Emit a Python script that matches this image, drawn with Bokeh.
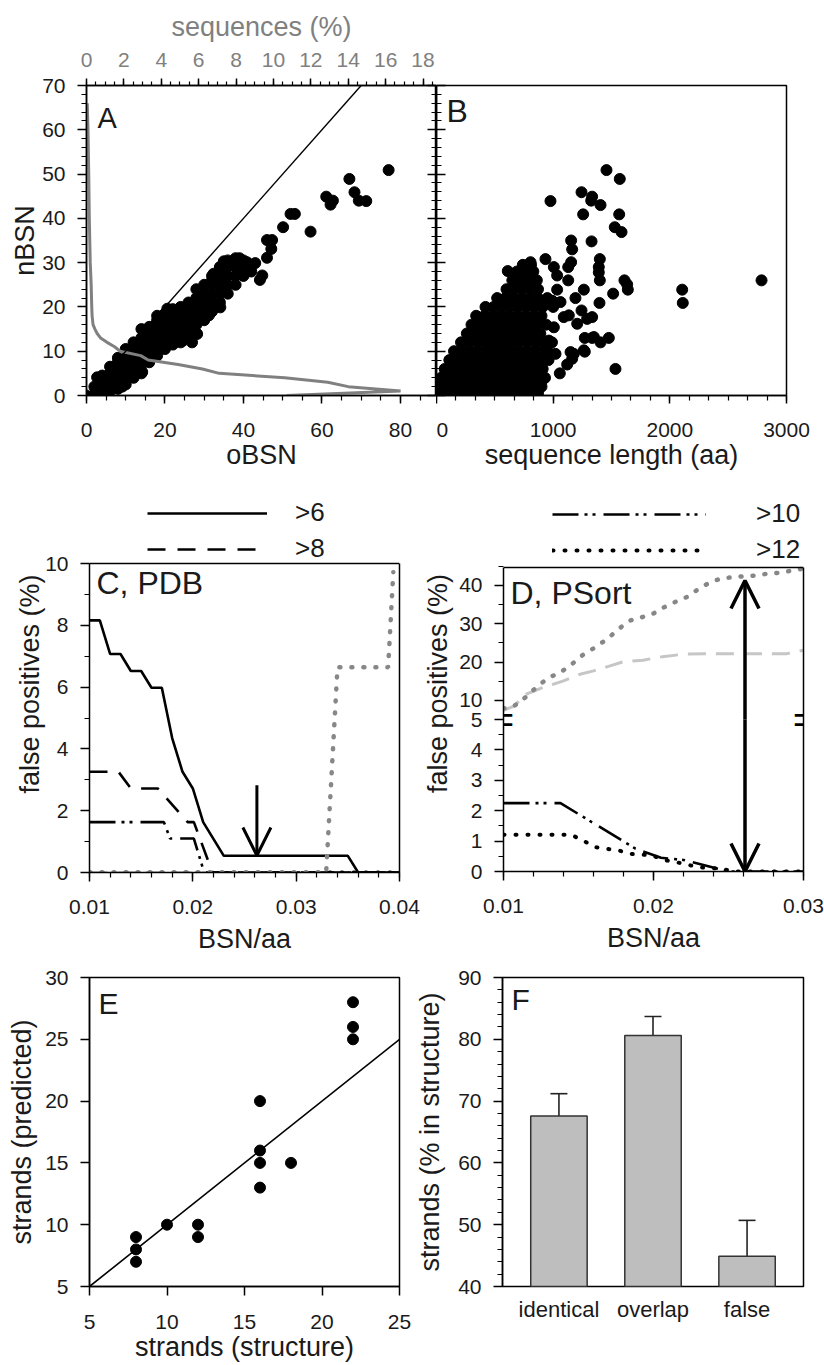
from bokeh.plotting import figure
from bokeh.models import (Range1d, LinearAxis, SingleIntervalTicker, FixedTicker, Slope, Arrow, Span,
                          OpenHead, Label, Legend, LegendItem, Whisker, TeeHead, ColumnDataSource,
                          CustomJSTickFormatter)
from bokeh.layouts import row, column
from bokeh.embed import file_html
from bokeh.resources import INLINE

FONT = "Liberation Sans"
TXT = "#1a1a1a"
GRAY = "#878787"
LIGHT = "#c6c6c6"
BAR = "#bebebe"

# ---------------- Panel A: nBSN vs oBSN ----------------
A_band_obsn = [0, 2, 4, 6, 8, 10, 12, 14, 16, 18, 20, 22, 24, 26, 28, 30, 32, 34, 36, 38, 40, 42]
A_band_nbsn = [[0], [0, 2], [0.5, 2.5, 4.5], [1, 3, 5, 6.5], [1.5, 3.5, 5.5, 7.5, 8.5],
               [2.5, 4.5, 6.5, 8.5, 10.5], [4, 6, 8, 10, 12], [5, 7, 9, 11, 13, 15],
               [7.5, 9.5, 11.5, 13.5, 15.5], [9, 11, 13, 15, 17, 18], [10.5, 12.5, 14.5, 16.5, 18.5],
               [11.5, 13.5, 15.5, 17.5, 19.5], [12, 14, 16, 18, 20], [13, 15, 17, 19, 21],
               [14, 16, 18, 20, 22, 24], [17, 19, 21, 23, 25], [19, 21, 23, 25, 27],
               [21, 23, 25, 27, 29], [23, 25, 27, 29, 30.5], [25, 27, 29, 31], [27, 29, 30.5], [28, 29.5]]
A_out_obsn = [77.0, 67.0, 68.3, 69.4, 71.3, 61.1, 62.2, 62.8, 57.1, 50.1, 52.0, 53.1, 46.0, 47.3, 47.1,
              46.0, 44.8, 44.2, 39.0, 40.9, 43.0, 41.8, 40.1, 35.0, 34.1, 32.4, 32.0, 34.1, 35.4, 34.1,
              29.0, 28.6, 31.2, 31.0, 26.5, 25.6, 28.2, 26.9, 24.6, 22.3, 20.6, 24.4, 14.2, 9.1, 2.7]
A_out_nbsn = [50.9, 48.9, 45.9, 44.0, 43.9, 44.9, 43.1, 44.0, 37.0, 38.0, 41.0, 41.0, 35.1, 35.1, 33.1,
              31.1, 27.1, 26.1, 31.0, 30.1, 29.9, 28.6, 28.2, 30.3, 29.0, 27.5, 26.0, 25.2, 23.7, 19.9,
              23.7, 21.8, 18.1, 21.1, 20.7, 18.4, 13.9, 12.0, 12.4, 19.2, 19.6, 16.9, 5.3, 2.0, 4.1]
A_curve_nbsn = [0, 1, 2, 3, 4, 5, 6, 7, 8, 9, 10, 11, 12, 13, 14, 15, 16, 18, 20, 25, 30, 40, 50, 60, 66]
A_curve_seq = [10.7, 16.8, 14.0, 12.9, 10.6, 7.1, 6.2, 4.9, 3.3, 2.9, 1.8, 1.5, 1.1, 0.75, 0.57, 0.45,
               0.35, 0.3, 0.28, 0.25, 0.2, 0.15, 0.12, 0.08, 0.04]

# ---------------- Panel B: nBSN vs sequence length ----------------
B_band_nbsn = [0.5, 2, 4, 6, 8, 10, 12, 14, 16, 18, 20, 22, 24, 26, 28, 29.5]
B_band_len = [[30, 100, 170, 240, 310, 380, 450, 520, 590, 660, 730, 800, 870],
              [20, 80, 150, 220, 290, 360, 430, 500, 570, 640, 710, 780, 850, 900],
              [40, 110, 180, 250, 320, 390, 460, 530, 600, 670, 740, 810, 880, 930],
              [70, 140, 210, 280, 350, 420, 490, 560, 630, 700, 770, 840, 910],
              [110, 180, 250, 320, 390, 460, 530, 600, 670, 740, 810, 880, 960],
              [150, 220, 290, 360, 430, 500, 570, 640, 710, 780, 850, 920],
              [210, 280, 350, 420, 490, 560, 630, 700, 770, 840, 910, 990],
              [260, 330, 400, 470, 540, 610, 680, 750, 820, 890],
              [300, 370, 440, 510, 580, 650, 720, 790, 860, 940],
              [340, 410, 480, 550, 620, 690, 760, 830, 900],
              [420, 490, 560, 630, 700, 770, 840, 910, 1000],
              [520, 590, 660, 730, 800, 870, 950],
              [600, 670, 740, 810, 870],
              [650, 720, 790, 860],
              [690, 760, 830],
              [740, 810]]
B_out_len = [1457, 1571, 1243, 1334, 1326, 1406, 977, 1257, 1566, 1528, 1586, 1329, 1154, 1163, 1400,
             1391, 1391, 1400, 1154, 1129, 1129, 1611, 1640, 1634, 1514, 1397, 1263, 1191, 1034, 2106,
             2111, 2786, 1534, 1057, 1271, 1334, 1406, 1477, 1271, 1334, 1243, 1134, 1177, 1120, 897,
             934, 1006, 1034, 611, 806, 991, 1063, 1091, 1006, 949, 1020, 1149, 1163, 963, 1206,
             1291, 1349, 1263]
B_out_nbsn = [50.9, 48.9, 45.9, 44.9, 44.0, 43.0, 43.9, 40.9, 40.9, 38.0, 36.9, 34.8, 35.0, 33.0, 30.8,
              29.0, 27.8, 26.0, 30.1, 29.0, 26.0, 26.0, 23.9, 25.1, 23.0, 20.9, 23.9, 22.0, 23.9, 23.9,
              20.9, 26.0, 6.0, 5.0, 9.9, 13.0, 12.0, 13.0, 13.0, 17.7, 19.2, 18.1, 9.4, 7.0, 3.0,
              30.8, 29.0, 27.1, 28.1, 30.1, 21.4, 21.1, 17.7, 15.4, 10.2, 9.4, 9.8, 8.3, 12.4, 16.2,
              17.3, 13.2, 10.2]

# ---------------- Panel C: PDB ----------------
C_ymax = 10
C_x6 = [0.010, 0.011, 0.012, 0.013, 0.014, 0.015, 0.016, 0.017, 0.018, 0.019, 0.020, 0.021, 0.023, 0.035, 0.036, 0.040]
C_y6 = [8.16, 8.16, 7.07, 7.07, 6.52, 6.52, 5.98, 5.98, 4.35, 3.26, 2.72, 1.63, 0.54, 0.54, 0.0, 0.0]
C_x8 = [0.010, 0.0128, 0.0140, 0.0166, 0.0195, 0.0201, 0.0219, 0.040]
C_y8 = [3.26, 3.26, 2.72, 2.72, 1.63, 1.63, 0.0, 0.0]
C_x10 = [0.010, 0.0172, 0.0178, 0.0201, 0.0211, 0.040]
C_y10 = [1.63, 1.63, 1.10, 1.10, 0.0, 0.0]
C_x12 = [0.010, 0.040]
C_y12 = [0.0, 0.0]
C_xl = [0.010, 0.040]
C_yl = [0.0, 0.0]
C_xg = [0.010, 0.0329, 0.0340, 0.0389, 0.0394]
C_yg = [0.0, 0.0, 6.64, 6.64, 9.72]
C_arrow = (0.0262, 2.82, 0.55)

# ---------------- Panel D: PSort ----------------
D_break, D_top = 5.0, 44.7
D_xg = [0.0100, 0.0107, 0.0115, 0.0123, 0.0130, 0.0138, 0.0146, 0.0153, 0.0161, 0.0169, 0.0177, 0.0184,
        0.0192, 0.0200, 0.0207, 0.0215, 0.0223, 0.0230, 0.0238, 0.0245, 0.0253, 0.0261, 0.0268, 0.0276,
        0.0284, 0.0291, 0.0300]
D_yg = [7.9, 8.5, 10.9, 13.8, 15.9, 17.3, 19.6, 21.9, 23.8, 26.0, 28.7, 30.8, 31.7, 32.7, 34.3, 35.8,
        37.1, 39.1, 40.9, 41.8, 42.2, 42.4, 42.6, 43.1, 43.3, 43.8, 44.4]
D_xl = [0.0100, 0.0107, 0.0115, 0.0126, 0.0140, 0.0151, 0.0160, 0.0171, 0.0180, 0.0193, 0.0206, 0.0221,
        0.0254, 0.0289, 0.0300]
D_yl = [7.4, 8.5, 11.6, 13.3, 15.1, 16.8, 17.7, 19.0, 20.1, 20.5, 21.4, 22.1, 22.2, 22.2, 23.1]
D_x10 = [0.0100, 0.0138, 0.0188, 0.0205, 0.0220, 0.0250, 0.0300]
D_y10 = [2.25, 2.25, 0.75, 0.45, 0.38, 0.0, 0.0]
D_x12 = [0.0100, 0.0145, 0.0153, 0.0161, 0.0177, 0.0185, 0.0199, 0.0207, 0.0215, 0.0230, 0.0245, 0.0255, 0.0300]
D_y12 = [1.21, 1.21, 1.02, 0.80, 0.69, 0.58, 0.53, 0.38, 0.31, 0.14, 0.09, 0.0, 0.0]
D_arrow = (0.0261, 41.3, 0.0)
D_low_ticks = [0, 1, 2, 3, 4, 5]
D_up_ticks = [10, 20, 30, 40]

# ---------------- Panel E ----------------
E_struct = [8, 8, 8, 10, 12, 12, 16, 16, 16, 16, 18, 22, 22, 22]
E_pred = [9, 8, 7, 10, 10, 9, 20, 16, 15, 13, 15, 28, 26, 25]

# ---------------- Panel F ----------------
F_cats = ["identical", "overlap", "false"]
F_vals = [67.6, 80.6, 44.9]
F_err = [3.6, 3.1, 5.8]

TICK_PX = "21px"
LABEL_PX = "27px"


# ---------------- helpers ----------------
def style_axis(ax, tick_out=9, minor_out=5, tick_in=0, minor_in=0, standoff=12, label_standoff=4):
    ax.axis_line_color = "black"
    ax.axis_line_width = 1.5
    ax.major_tick_line_color = "black"
    ax.major_tick_line_width = 1.5
    ax.minor_tick_line_color = "black"
    ax.minor_tick_line_width = 1.2
    ax.major_tick_out = tick_out
    ax.major_tick_in = tick_in
    ax.minor_tick_out = minor_out
    ax.minor_tick_in = minor_in
    ax.major_label_text_font = FONT
    ax.major_label_text_font_size = TICK_PX
    ax.major_label_text_color = TXT
    ax.major_label_standoff = standoff
    ax.axis_label_text_font = FONT
    ax.axis_label_text_font_size = LABEL_PX
    ax.axis_label_text_font_style = "normal"
    ax.axis_label_text_color = TXT
    ax.axis_label_standoff = label_standoff


def hidden_labels(ax):
    ax.formatter = CustomJSTickFormatter(code="return ''")
    ax.major_label_standoff = 0
    ax.axis_label_standoff = 0


def make_fig(fw, fh, left, right, top, bottom, xr, yr):
    p = figure(frame_width=fw, frame_height=fh, x_range=xr, y_range=yr,
               output_backend="svg", toolbar_location=None,
               min_border_left=left, min_border_right=right,
               min_border_top=top, min_border_bottom=bottom)
    p.grid.visible = False
    p.outline_line_color = "black"
    p.outline_line_width = 1.5
    return p


def open_top_box(p, ytop):
    """Frame taller than the plotting box: draw the box from axes + a span."""
    p.outline_line_color = None
    p.yaxis[0].bounds = (0, ytop)
    p.add_layout(Span(location=ytop, dimension="width", line_color="black", line_width=1.5))
    rax = LinearAxis(bounds=(0, ytop), ticker=FixedTicker(ticks=[]))
    style_axis(rax, tick_out=0, minor_out=0)
    hidden_labels(rax)
    p.add_layout(rax, "right")


def panel_label(p, text, x, y, xo, yo, size):
    p.add_layout(Label(x=x, y=y, x_offset=xo, y_offset=yo, text=text, text_font=FONT,
                       text_font_size=size, text_color=TXT, text_baseline="top", text_align="left"))


def expand(xs, ylists):
    ox, oy = [], []
    for xv, ys in zip(xs, ylists):
        for yv in ys:
            ox.append(xv)
            oy.append(yv)
    return ox, oy


def make_legend(renderers, labels, loc, glyph_w, standoff):
    items = [LegendItem(label=l, renderers=[r]) for l, r in zip(labels, renderers)]
    lg = Legend(items=items, location=loc, glyph_width=glyph_w, glyph_height=30, label_height=30,
                label_standoff=standoff, spacing=5, padding=0, margin=0,
                border_line_color=None, background_fill_alpha=0,
                label_text_font=FONT, label_text_font_size="26px", label_text_color=TXT)
    return lg


# ---------------- Panel A ----------------
pA = make_fig(350, 310, 86, 0, 85, 80, Range1d(0, 89.2), Range1d(0, 70))
pA.extra_x_ranges = {"seq": Range1d(0, 18.72)}
style_axis(pA.xaxis[0], tick_out=8, minor_out=5, standoff=19, label_standoff=0)
pA.xaxis[0].ticker = SingleIntervalTicker(interval=20, num_minor_ticks=4)
pA.xaxis[0].axis_label = "oBSN"
style_axis(pA.yaxis[0], label_standoff=-1)
pA.yaxis[0].ticker = SingleIntervalTicker(interval=10, num_minor_ticks=5)
pA.yaxis[0].axis_label = "nBSN"
topax = LinearAxis(x_range_name="seq", axis_label="sequences (%)",
                   ticker=SingleIntervalTicker(interval=2, num_minor_ticks=4))
style_axis(topax, tick_out=7, minor_out=4, standoff=12, label_standoff=8)
topax.major_label_text_color = "#808080"
topax.axis_label_text_color = "#808080"
pA.add_layout(topax, "above")
rightA = LinearAxis(ticker=SingleIntervalTicker(interval=10, num_minor_ticks=5))
style_axis(rightA, tick_out=0, minor_out=0, tick_in=9, minor_in=5)
hidden_labels(rightA)
pA.add_layout(rightA, "right")

bx, by = expand(A_band_obsn, A_band_nbsn)
pA.scatter(bx + A_out_obsn, by + A_out_nbsn, size=11, color="black")
pA.add_layout(Slope(gradient=1, y_intercept=0, line_color="black", line_width=1.4))
pA.line(A_curve_seq, A_curve_nbsn, x_range_name="seq", line_color="#808080", line_width=3)
panel_label(pA, "A", 0, 70, 11, -16, "29px")

# ---------------- Panel B ----------------
pB = make_fig(350, 310, 0, 38, 85, 80, Range1d(0, 3000), Range1d(0, 70))
style_axis(pB.xaxis[0], tick_out=8, minor_out=5, standoff=19, label_standoff=0)
pB.xaxis[0].ticker = SingleIntervalTicker(interval=1000, num_minor_ticks=6)
pB.xaxis[0].axis_label = "sequence length (aa)"
style_axis(pB.yaxis[0], tick_out=0, minor_out=0, tick_in=9, minor_in=5)
pB.yaxis[0].ticker = SingleIntervalTicker(interval=10, num_minor_ticks=5)
hidden_labels(pB.yaxis[0])
lx, ly = expand(B_band_nbsn, B_band_len)
pB.scatter(ly + B_out_len, lx + B_out_nbsn, size=11, color="black")
panel_label(pB, "B", 0, 70, 10, -7, "32px")

# ---------------- Panel C ----------------
C_box_px, C_frame_px = 309, 377
pC = make_fig(310, C_frame_px, 89, 21, 20, 86, Range1d(0.01, 0.04),
              Range1d(0, C_ymax * C_frame_px / C_box_px))
open_top_box(pC, C_ymax)
style_axis(pC.xaxis[0], standoff=18, label_standoff=7)
pC.xaxis[0].ticker = SingleIntervalTicker(interval=0.01, num_minor_ticks=5)
pC.xaxis[0].axis_label = "BSN/aa"
style_axis(pC.yaxis[0], label_standoff=-3)
pC.yaxis[0].ticker = SingleIntervalTicker(interval=2, num_minor_ticks=2)
pC.yaxis[0].axis_label = "false positives (%)"
pC.line(C_xl, C_yl, line_color=LIGHT, line_width=3, line_dash="18 10")
pC.line(C_x12, C_y12, line_color="black", line_width=4, line_dash="1 11", line_cap="round")
r6 = pC.line(C_x6, C_y6, line_color="black", line_width=2.6)
r8 = pC.line(C_x8, C_y8, line_color="black", line_width=2.6, line_dash="18 12")
pC.line(C_x10, C_y10, line_color="black", line_width=2.6, line_dash="26 6 3 5 3 8")
pC.line(C_xg, C_yg, line_color=GRAY, line_width=4.5, line_dash="1 11", line_cap="round")
pC.add_layout(Arrow(x_start=C_arrow[0], y_start=C_arrow[1], x_end=C_arrow[0], y_end=C_arrow[2],
                    line_width=3, line_color="black", start=None,
                    end=OpenHead(size=28, line_width=3, line_color="black")))
pC.add_layout(make_legend([r6, r8], [">6", ">8"], (58, 308), 120, 28))
panel_label(pC, "C, PDB", 0.01, C_ymax, 7, -1, "32px")

# ---------------- Panel D (broken axis) ----------------
D_seg_px, D_frame_px = 152, 376
lower_end = D_break * D_frame_px / D_seg_px
up_per_px = (D_top - D_break) / D_seg_px
pD = make_fig(300, D_frame_px, 80, 24, 20, 87, Range1d(0.01, 0.03), Range1d(0, lower_end))
pD.extra_y_ranges = {"upper": Range1d(D_break - D_seg_px * up_per_px,
                                      D_break + (D_frame_px - D_seg_px) * up_per_px)}


def to_lower(v):
    return D_break + (v - D_break) * D_break / (D_top - D_break)


open_top_box(pD, 2 * D_break)
style_axis(pD.xaxis[0], standoff=18, label_standoff=7)
pD.xaxis[0].ticker = SingleIntervalTicker(interval=0.01, num_minor_ticks=5)
pD.xaxis[0].axis_label = "BSN/aa"
style_axis(pD.yaxis[0], label_standoff=3)
up_pos = [to_lower(v) for v in D_up_ticks]
minors = [t + 0.5 for t in D_low_ticks[:-1]] + [to_lower(v + 5) for v in D_up_ticks]
pD.yaxis[0].ticker = FixedTicker(ticks=[float(t) for t in D_low_ticks] + up_pos, minor_ticks=minors)
overrides = {float(t): str(t) for t in D_low_ticks}
for pos, v in zip(up_pos, D_up_ticks):
    overrides[pos] = str(v)
pD.yaxis[0].major_label_overrides = overrides
pD.yaxis[0].axis_label = "false positives (%)"
pD.line(D_xl, D_yl, y_range_name="upper", line_color=LIGHT, line_width=3, line_dash="18 10")
pD.line(D_xg, D_yg, y_range_name="upper", line_color=GRAY, line_width=4.5, line_dash="1 11", line_cap="round")
r10 = pD.line(D_x10, D_y10, line_color="black", line_width=2.6, line_dash="26 6 3 5 3 8")
r12 = pD.line(D_x12, D_y12, line_color="black", line_width=4, line_dash="1 11", line_cap="round")
pD.add_layout(Arrow(x_start=D_arrow[0], y_start=D_break, x_end=D_arrow[0], y_end=D_arrow[1],
                    y_range_name="upper", line_width=3.5, line_color="black", start=None,
                    end=OpenHead(size=28, line_width=3.5, line_color="black")))
pD.add_layout(Arrow(x_start=D_arrow[0], y_start=D_break, x_end=D_arrow[0], y_end=D_arrow[2],
                    line_width=3.5, line_color="black", start=None,
                    end=OpenHead(size=28, line_width=3.5, line_color="black")))
for bxv in (0.01, 0.03):
    pD.add_layout(Label(x=bxv, y=D_break, text="=", text_font=FONT, text_font_size="36px",
                        text_color="black", text_align="center", text_baseline="middle"))
pD.add_layout(make_legend([r10, r12], [">10", ">12"], (49, 306), 154, 50))
panel_label(pD, "D, PSort", 0.01, 2 * D_break, 7, -7, "32px")

# ---------------- Panel E ----------------
pE = make_fig(310, 309, 89, 13, 19, 79, Range1d(5, 25), Range1d(5, 30))
style_axis(pE.xaxis[0], minor_out=0, standoff=19, label_standoff=0)
pE.xaxis[0].ticker = SingleIntervalTicker(interval=5, num_minor_ticks=0)
pE.xaxis[0].axis_label = "strands (structure)"
style_axis(pE.yaxis[0], minor_out=0, label_standoff=5)
pE.yaxis[0].ticker = SingleIntervalTicker(interval=5, num_minor_ticks=0)
pE.yaxis[0].axis_label = "strands (predicted)"
pE.add_layout(Slope(gradient=1, y_intercept=0, line_color="black", line_width=1.6))
pE.scatter(E_struct, E_pred, size=11, color="black")
panel_label(pE, "E", 5, 30, 9, -9, "30px")

# ---------------- Panel F ----------------
pF = make_fig(301, 309, 90, 21, 19, 79, Range1d(0.4, 3.6), Range1d(40, 90))
xs = [1, 2, 3]
src = ColumnDataSource(dict(x=xs, top=F_vals, up=[v + e for v, e in zip(F_vals, F_err)]))
style_axis(pF.xaxis[0], tick_out=0, minor_out=0, standoff=10)
pF.xaxis[0].ticker = FixedTicker(ticks=xs)
pF.xaxis[0].major_label_overrides = {x: c for x, c in zip(xs, F_cats)}
pF.xaxis[0].major_label_text_font_size = "22px"
pF.xaxis[0].axis_line_color = None
style_axis(pF.yaxis[0], label_standoff=10)
pF.yaxis[0].ticker = SingleIntervalTicker(interval=10, num_minor_ticks=5)
pF.yaxis[0].axis_label = "strands (% in structure)"
pF.add_layout(Whisker(source=src, base="x", upper="up", lower="top", dimension="height",
                      line_width=1.6, line_color="#222222", lower_head=None,
                      upper_head=TeeHead(size=17, line_width=1.6, line_color="#222222")))
pF.vbar(x="x", top="top", bottom=40, width=0.6, source=src, fill_color=BAR,
        line_color="#333333", line_width=1.5)
panel_label(pF, "F", 0.4, 90, 9, -5, "30px")

layout = column(row(pA, pB), row(pC, pD), row(pE, pF))
open("out.html", "w").write(file_html(layout, INLINE))
